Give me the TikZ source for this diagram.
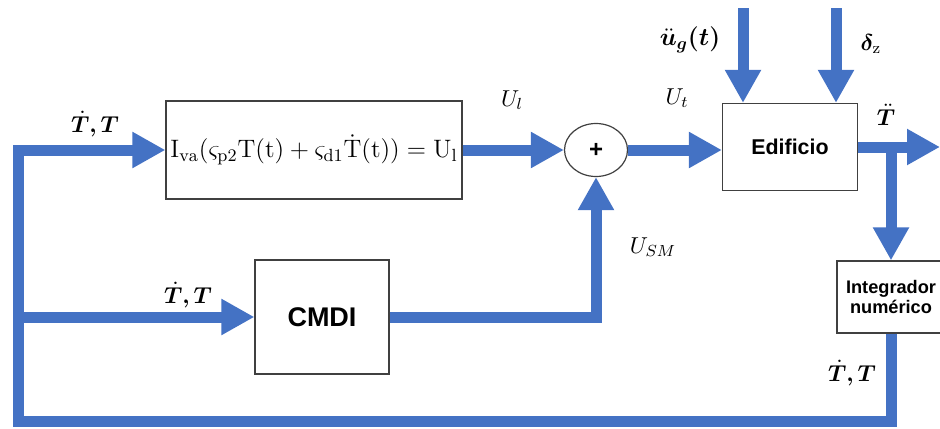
\RequirePackage{fix-cm}
\documentclass[tikz,border=0pt]{standalone}
\usepackage{amsmath,amssymb,bm}
\usepackage{fontspec}
\newfontfamily\arialfont{Liberation Sans}
\usetikzlibrary{arrows.meta,calc,shapes.geometric}
\definecolor{flowblue}{RGB}{68,114,196}

\begin{document}
\begin{tikzpicture}[x=0.5pt,y=-0.5pt,
		flow/.style={draw=flowblue,line width=5.5pt,line join=miter,-{Triangle[length=16.5pt,width=17pt]}},
		block/.style={draw=black!75,line width=0.6pt,fill=white,inner sep=0pt},
		lbl/.style={font=\fontsize{11.5}{14}\selectfont}]
					\useasboundingbox (0,0) rectangle (940,428);
					\node[block,minimum width=148pt,minimum height=49pt,font=\fontsize{12.6}{14}\selectfont] (eq) at (314,150)
						{$\mathrm{I}_{\mathrm{va}}(\varsigma_{\mathrm{p2}}\mathrm{T}(\mathrm{t})+\varsigma_{\mathrm{d1}}\dot{\mathrm{T}}(\mathrm{t}))=\mathrm{U}_{\mathrm{l}}$};
					\node[block,ellipse,minimum width=31.5pt,minimum height=26.5pt,font=\arialfont\bfseries\fontsize{12}{14}\selectfont] (sum) at (596,150) {+};
					\node[block,minimum width=67.5pt,minimum height=43.5pt,font=\arialfont\bfseries\fontsize{10.7}{12}\selectfont] (edif) at (790,147) {Edificio};
					\node[block,minimum width=67pt,minimum height=57pt,font=\arialfont\bfseries\fontsize{13.5}{15}\selectfont] (cmdi) at (322,317) {CMDI};
					\node[block,minimum width=54pt,minimum height=36pt,align=center,font=\arialfont\bfseries\fontsize{9.1}{10}\selectfont] (integ) at (891,297)
						{Integrador\\numérico};
					\coordinate (ugin) at (743,8); \coordinate (dzin) at (836,8);
					\coordinate (split) at (891,147); \coordinate (tout) at (940,147);
					\coordinate (fbR) at (891,421); \coordinate (fbL) at (18,421);
					\foreach \p in {ugin,dzin} \draw[flow] (\p) -- (\p |- edif.north);
					\draw[flow] (eq.east) -- (sum.west);
					\draw[flow] (sum.east) -- (sum.east -| edif.west);
					\draw[flow] (edif.east) -- (tout);
					\draw[flow] (split) -- (integ.north);
					\draw[flow] (integ.south) -- (fbR) -- (fbL) -- (fbL |- eq.west) -- (eq.west);
					\draw[flow] (fbL |- cmdi.west) -- (cmdi.west);
					\draw[flow] (cmdi.east) -| (sum.south);
					\node[lbl] (tl1) at (95,124) {$\bm{\dot T, T}$};
					\node[lbl] (tl2) at (188,295) {$\bm{\dot T, T}$};
					\node[lbl] (tl3) at (852,373) {$\bm{\dot T, T}$};
					\node[lbl,font=\fontsize{12.5}{14}\selectfont] (ugl) at (690,40) {$\bm{\ddot u_g(t)}$};
					\node[lbl] (dzl) at (871,44) {$\bm{\delta}_{\mathrm{z}}$};
					\node[lbl] (ttl) at (886,115) {$\bm{\ddot T}$};
					\node[lbl] (ull) at (512,100) {$U_l$};
					\node[lbl] (utl) at (677,98) {$U_t$};
					\node[lbl] (usml) at (653,247) {$U_{SM}$};
				\end{tikzpicture}
\end{document}
